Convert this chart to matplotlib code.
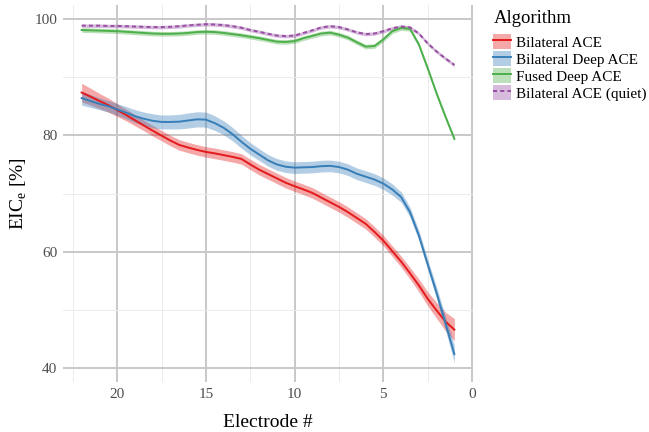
import matplotlib
matplotlib.use('Agg')
from matplotlib import pyplot as plt
from matplotlib.patches import Patch
from matplotlib.lines import Line2D
from matplotlib.legend_handler import HandlerTuple
import numpy as np

plt.rcParams['font.family'] = ['Liberation Serif', 'DejaVu Serif']
plt.rcParams['mathtext.fontset'] = 'custom'
plt.rcParams['mathtext.rm'] = 'Liberation Serif'

# electrode 22 -> 1 in half steps
electrode = np.arange(22, 0.75, -0.5)

# smoothed EIC_e values
bilateral_ace = [87.35, 86.65, 85.9, 85.2, 84.35, 83.5, 82.6, 81.7, 80.8, 79.95, 79.1,
                 78.35, 77.9, 77.5, 77.15, 76.9, 76.6, 76.3, 75.95,
                 75.0, 74.1, 73.35, 72.6, 71.85, 71.25, 70.7, 70.1,
                 69.3, 68.5, 67.7, 66.8, 65.8, 64.8, 63.4, 61.9,
                 60.1, 58.3, 56.3, 54.2, 51.9, 49.9, 48.0, 46.6]
bilateral_deep = [86.4, 85.9, 85.4, 85.0, 84.45, 83.9, 83.3, 82.85, 82.5, 82.3, 82.3,
                  82.35, 82.55, 82.75, 82.7, 82.1, 81.3, 80.2, 78.9,
                  77.7, 76.7, 75.7, 75.0, 74.6, 74.45, 74.5, 74.55,
                  74.7, 74.75, 74.55, 74.1, 73.4, 72.9, 72.4, 71.7,
                  70.7, 69.4, 66.8, 62.8, 57.8, 52.9, 47.7, 42.4]
fused_deep = [98.1, 98.05, 98.0, 97.95, 97.9, 97.8, 97.7, 97.6, 97.5, 97.45, 97.45,
              97.5, 97.6, 97.75, 97.8, 97.75, 97.6, 97.4, 97.2,
              96.95, 96.7, 96.4, 96.1, 96.05, 96.2, 96.7, 97.1,
              97.5, 97.65, 97.3, 96.8, 96.0, 95.25, 95.35, 96.5,
              97.9, 98.45, 98.3, 95.6, 91.5, 87.2, 83.2, 79.4]
bilateral_quiet = [98.85, 98.85, 98.85, 98.8, 98.8, 98.75, 98.7, 98.65, 98.6, 98.6, 98.65,
                   98.75, 98.9, 99.0, 99.1, 99.05, 98.95, 98.75, 98.5,
                   98.1, 97.8, 97.45, 97.15, 97.05, 97.15, 97.6, 98.05,
                   98.55, 98.75, 98.6, 98.2, 97.7, 97.4, 97.5, 97.9,
                   98.4, 98.7, 98.55, 97.5, 95.8, 94.4, 93.2, 92.1]

# ribbon half widths
se_ace = [1.6, 1.45, 1.3, 1.2, 1.1, 1.0, 0.95] + [0.9] * 29 + [0.95, 1.0, 1.1, 1.2, 1.35, 1.6, 1.9]
se_deep = [1.2, 1.1, 1.0, 1.0, 1.0, 1.05, 1.1, 1.15, 1.2, 1.2, 1.2, 1.25, 1.3, 1.3, 1.3,
           1.25, 1.2, 1.15, 1.1, 1.05, 1.0] + [1.0] * 14 + [0.95, 0.9, 0.85, 0.85, 0.9, 1.0, 1.2, 1.5]
se_fused = [0.4] * 43
se_quiet = [0.3] * 43

series = [
    ('Bilateral ACE', bilateral_ace, se_ace, '#E41A1C', '-'),
    ('Bilateral Deep ACE', bilateral_deep, se_deep, '#377EB8', '-'),
    ('Fused Deep ACE', fused_deep, se_fused, '#4DAF4A', '-'),
    ('Bilateral ACE (quiet)', bilateral_quiet, se_quiet, '#984EA3', (0, (2.1, 1.6))),
]

fig = plt.figure(figsize=(6.49, 4.32), dpi=100)
ax = fig.add_axes([0.0971, 0.1157, 0.6317, 0.8727])

handles = []
for name, vals, se, col, ls in series:
    vals = np.array(vals)
    se = np.array(se)
    ax.fill_between(electrode, vals - se, vals + se, color=col, alpha=0.38, lw=0)
    ax.plot(electrode, vals, color=col, lw=1.4, ls=ls)
    handles.append((Patch(facecolor=col, alpha=0.38, edgecolor='none'),
                    Line2D([], [], color=col, lw=1.4, ls=ls)))

ax.set_xlim(23.05, -0.05)
ax.set_ylim(37.6, 102.4)
ax.set_xticks([20, 15, 10, 5, 0])
ax.set_xticks([22.5, 17.5, 12.5, 7.5, 2.5], minor=True)
ax.set_yticks([40, 60, 80, 100])
ax.set_yticks([50, 70, 90], minor=True)
ax.grid(which='major', color='#c8c8c8', lw=1.4)
ax.grid(which='minor', color='#ebebeb', lw=0.7)
ax.set_axisbelow(True)
for s in ax.spines.values():
    s.set_visible(False)
ax.tick_params(which='both', length=0, labelsize=11, labelcolor='#4d4d4d', pad=4)

ax.set_xlabel('Electrode #', fontsize=14, labelpad=10)
ax.set_ylabel(r'EIC$_\mathrm{e}$ [%]', fontsize=14, labelpad=4)

fig.text(494 / 649, 1 - 23 / 432, 'Algorithm', fontsize=13.5, va='baseline', ha='left')
leg = fig.legend(handles, [s[0] for s in series],
                 handler_map={tuple: HandlerTuple(ndivide=1, pad=0)},
                 loc='upper left', bbox_to_anchor=(493 / 649, 1 - 34 / 432), frameon=False,
                 fontsize=11, handlelength=1.15, handleheight=1.15,
                 handletextpad=0.37, labelspacing=0.08, borderpad=0, borderaxespad=0)

plt.savefig('out.png', dpi=100)
